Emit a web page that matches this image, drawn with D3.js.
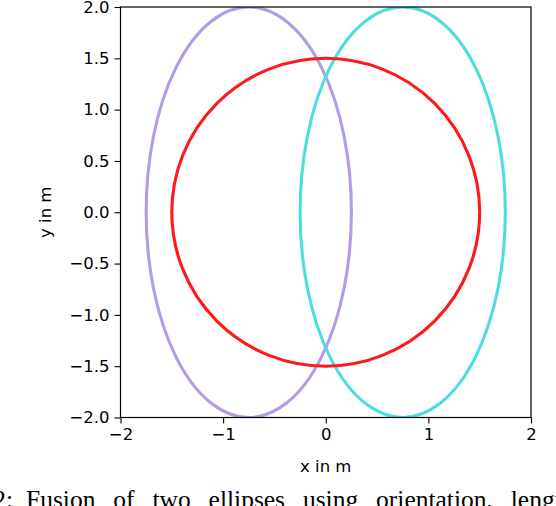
<!DOCTYPE html>
<html><head><meta charset="utf-8">
<script src="https://cdn.jsdelivr.net/npm/d3@7"></script>
<style>body{margin:0;background:#fff;overflow:hidden}svg{display:block}</style>
</head><body>
<svg id="c" width="556" height="506"></svg>
<script>
// Data
const ellipseNames = ["left", "right", "fused"];
const centersX = [-0.75, 0.75, 0];
const centersY = [0, 0, 0];
const semiAxisX = [1.0, 1.0, 1.5];
const semiAxisY = [2.0, 2.0, 1.5];
const colors = ["#b39be6", "#4ddddf", "#ff1a1a"];
const xTicks = [-2, -1, 0, 1, 2];
const yTicks = [-2.0, -1.5, -1.0, -0.5, 0.0, 0.5, 1.0, 1.5, 2.0];
const xLabel = "x in m", yLabel = "y in m";
const captionNum = "Fig. 2:";
const captionText = "Fusion of two ellipses using orientation, length and width";

const svg = d3.select("#c");
const L = 120.5, R = 531, T = 7, B = 417.5;
const x = d3.scaleLinear().domain([-2, 2]).range([L, R]);
const y = d3.scaleLinear().domain([-2, 2]).range([B, T]);
const font = "DejaVu Sans, sans-serif";

svg.append("clipPath").attr("id", "pc").append("rect")
  .attr("x", L).attr("y", T).attr("width", R - L).attr("height", B - T);

const g = svg.append("g").attr("clip-path", "url(#pc)");
ellipseNames.forEach((n, i) => {
  g.append("ellipse")
    .attr("cx", x(centersX[i])).attr("cy", y(centersY[i]))
    .attr("rx", x(semiAxisX[i]) - x(0)).attr("ry", y(0) - y(semiAxisY[i]))
    .attr("fill", "none").attr("stroke", colors[i]).attr("stroke-width", 3.1);
});

const fmt = d => (d < 0 ? "\u2212" : "") + Math.abs(d);
const fmtY = d => (d < 0 ? "\u2212" : "") + Math.abs(d).toFixed(1);

const xa = svg.append("g").attr("transform", `translate(0,${B})`)
  .call(d3.axisBottom(x).tickValues(xTicks).tickFormat(fmt).tickSize(6).tickPadding(5));
const ya = svg.append("g").attr("transform", `translate(${L},0)`)
  .call(d3.axisLeft(y).tickValues(yTicks).tickFormat(fmtY).tickSize(6).tickPadding(5));
[xa, ya].forEach(a => {
  a.select(".domain").remove();
  a.selectAll("line").attr("stroke", "#000").attr("stroke-width", 1.1);
  a.selectAll("text").attr("font-family", font).attr("font-size", 16.5).attr("fill", "#000");
});

svg.append("rect").attr("x", L).attr("y", T).attr("width", R - L).attr("height", B - T)
  .attr("fill", "none").attr("stroke", "#000").attr("stroke-width", 1.2);

svg.append("text").attr("x", (L + R) / 2).attr("y", 472).attr("text-anchor", "middle")
  .attr("font-family", font).attr("font-size", 16.5).text(xLabel);
svg.append("text").attr("transform", `translate(51,${(T + B) / 2}) rotate(-90)`)
  .attr("text-anchor", "middle").attr("font-family", font).attr("font-size", 16.5).text(yLabel);

const serif = "Liberation Serif, Times New Roman, serif";
svg.append("text").attr("x", 13).attr("y", 508).attr("text-anchor", "end")
  .attr("font-family", serif).attr("font-size", 25.5).text(captionNum);
svg.append("text").attr("x", 26).attr("y", 508)
  .attr("font-family", serif).attr("font-size", 25.5)
  .attr("word-spacing", 11.5).text(captionText);
</script>
</body></html>
